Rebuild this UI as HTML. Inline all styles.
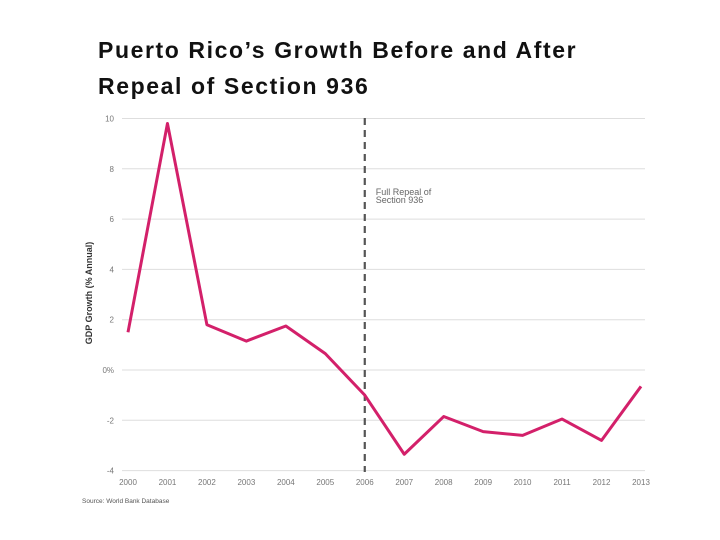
<!DOCTYPE html>
<html><head><meta charset="utf-8"><style>
body{margin:0;background:#fff;width:720px;height:540px;overflow:hidden;font-family:"Liberation Sans",Arial,sans-serif}
.title{position:absolute;left:98px;top:32px;font-size:23px;letter-spacing:1.6px;font-weight:bold;line-height:36px;color:#111}
</style></head><body>
<div class="title">Puerto Rico’s Growth Before and After<br>Repeal of Section 936</div>
<svg id="chart" width="720" height="540" style="position:absolute;left:0;top:0"></svg>
<script>
const years=[2000,2001,2002,2003,2004,2005,2006,2007,2008,2009,2010,2011,2012,2013];
const growth=[1.5,9.8,1.8,1.15,1.75,0.65,-1.0,-3.35,-1.85,-2.45,-2.6,-1.95,-2.8,-0.65];
const yTicks=[10,8,6,4,2,0,-2,-4];
const yTickLabels=["10","8","6","4","2","0%","-2","-4"];
const repealYear=2006;
const NS="http://www.w3.org/2000/svg";
const svg=document.getElementById('chart');
const x=v=>128+(v-2000)*(641-128)/13;
const y=v=>370-v*25.15;
function el(t,a,p){const e=document.createElementNS(NS,t);for(const k in a)e.setAttribute(k,a[k]);(p||svg).appendChild(e);return e;}
yTicks.forEach((t,i)=>{
 const g=el('line',{x1:122,x2:645,y1:y(t),y2:y(t),stroke:'#dedede','stroke-width':1});
 
 
 const l=el('text',{x:114,y:y(t)+3,'font-size':8,fill:'#777','text-anchor':'end'});
 l.textContent=yTickLabels[i];
 
 
});
years.forEach(yr=>{
 const l=el('text',{x:x(yr),y:485,'font-size':8,fill:'#777','text-anchor':'middle'});
 l.textContent=yr;
 
 
});
const d=el('line',{x1:x(repealYear),x2:x(repealYear),y1:118,y2:472,stroke:'#555','stroke-width':2.2,'stroke-dasharray':'7,5'});


const a1=el('text',{x:x(repealYear)+11,y:195,'font-size':9,fill:'#666'});a1.textContent='Full Repeal of';


const a2=el('text',{x:x(repealYear)+11,y:203,'font-size':9,fill:'#666'});a2.textContent='Section 936';


const pl=el('polyline',{points:years.map((yr,i)=>x(yr)+','+y(growth[i])).join(' '),fill:'none',stroke:'#d3206a','stroke-width':3,'stroke-linejoin':'round'});


const yt=el('text',{transform:'translate(92,293) rotate(-90)','font-size':9,'font-weight':'bold',fill:'#333','text-anchor':'middle'});
yt.textContent='GDP Growth (% Annual)';


const src=el('text',{x:82,y:503,'font-size':6.5,fill:'#555'});
src.textContent='Source: World Bank Database';


</script>
</body></html>
